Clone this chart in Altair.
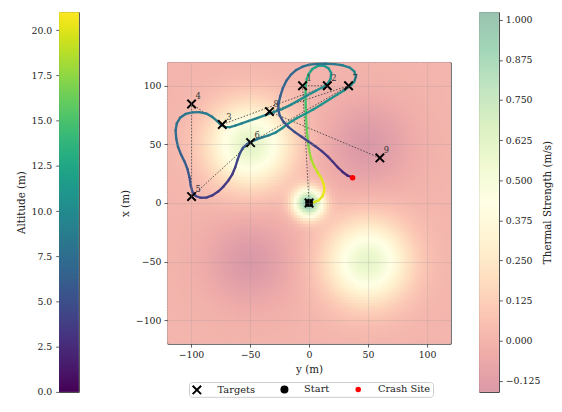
import altair as alt
import numpy as np
import pandas as pd

# ---------------- data ----------------
# thermal model (horizontal coordinate = y, vertical = x)
th_y = [0, -50, 50, 50, -50]
th_x = [0, 50, -50, 50, -50]
th_w = [1.0, 0.62, 0.6, -0.16, -0.16]
th_sigma = [8.5, 24, 24, 25, 25]

# targets (0 = start position)
tgt_id = [0, 1, 2, 3, 4, 5, 6, 7, 8, 9]
tgt_y = [0, -5.5, 15.5, -73.5, -99.5, -99.5, -49.5, 33.5, -33.5, 60]
tgt_x = [0, 100, 100, 67, 84.5, 5.5, 51.5, 100, 78, 38.5]

start_y, start_x = 0, 0
crash_y, crash_x = 36.9, 21.6

traj_y = [0, 4, 8.5, 11.5, 13, 12.5, 10.5, 7.5, 4.5, 2, 0.5, -0.5, -1.3, -2, -2.5, -2.8, -3, -2.8,
          -2, -0.3, 2.8, 7.5, 12.5, 16.5, 18.7, 18.3, 15.8, 11.5,
          5, -2, -9, -16, -23, -30, -37, -44, -51, -57, -62.5, -67, -71, -74.5, -78, -82, -87, -93,
          -99, -104.5, -109, -112, -113, -112.5, -111, -108.5, -105.5, -103, -101.3, -100.2, -98.8,
          -96, -92, -87, -82, -77, -72.5, -68.5, -65, -62.5, -60.5, -58.5, -56, -52.5, -48.5, -44,
          -39, -33.5, -28, -22.5, -17, -10.5, -3.5, 3.5, 10.5, 17.5, 24, 29.5, 34.5, 38.3, 39.7,
          38.3, 34.5, 28.5, 21.5, 14, 7, 0.5, -5.5, -10.8, -15.3, -19.2, -22.2, -24.3, -25.8, -26,
          -24.8, -21.8, -17.3, -12, -6.3, -0.5, 5.3, 10.8, 15.8, 20.3, 24.5, 28.5, 32.5, 36.9]
traj_x = [0, 0.5, 2.5, 6, 11, 16, 21, 26, 31, 37, 43, 49, 56, 64, 73, 82, 91, 100,
          105.5, 110, 114.3, 117, 117.2, 115, 111, 106, 101.8, 98.8,
          95.3, 91.5, 87.5, 83.5, 80, 77.5, 75, 72.5, 70, 68, 66, 64.7, 64.8, 66.5, 70, 73.5, 76.3, 77.5,
          77.3, 76, 73, 68, 62, 55, 48, 41.5, 35.5, 29, 22, 15, 9.5,
          6, 4.5, 4.6, 6.5, 9.8, 14, 19, 24.5, 30.5, 37, 42.5, 47, 50.3, 52.5, 54.5,
          56.3, 58, 60.3, 64, 68.3, 72.3, 76, 79.8, 84, 88.5, 92.5, 96, 99.5, 103.5, 108,
          112.3, 115.5, 117.5, 118.5, 118.8, 118.7, 118, 116.3, 113.5, 109.5, 104.3, 98, 91.3, 85, 79.5,
          74.5, 69.5, 64.8, 60.5, 56.5, 52.5, 48.5, 44.3, 39.8, 35, 30.3, 26.5, 23.5, 21.6]
traj_alt = [19.2, 19.6, 20.0, 20.3, 20.4, 20.3, 20.0, 19.5, 18.9, 18.3, 17.7, 17.2, 16.7, 16.1, 15.5, 15.0, 14.5, 14.0,
            13.4, 12.8, 12.2, 11.7, 11.3, 11.0, 10.8, 10.6, 10.5, 10.4,
            10.2, 10.1, 10.0, 9.9, 9.8, 9.7, 9.6, 9.5, 9.4, 9.3, 9.2, 9.1, 9.0, 8.9, 8.8, 8.7, 8.6, 8.5,
            8.4, 8.2, 8.0, 7.8, 7.5, 7.2, 6.9, 6.6, 6.3, 5.9, 5.5, 5.1, 4.7,
            4.4, 4.1, 3.9, 3.7, 3.5, 3.4, 3.4, 3.5, 3.8, 4.2, 4.7, 5.3, 6.0, 6.8, 7.6,
            8.4, 9.1, 9.7, 10.1, 10.4, 10.6, 10.7, 10.8, 10.8, 10.7, 10.6, 10.5, 10.3, 10.1, 9.9,
            9.6, 9.3, 9.0, 8.7, 8.4, 8.1, 7.8, 7.5, 7.2, 7.0, 6.8, 6.6, 6.4, 6.2, 6.0,
            5.7, 5.4, 5.1, 4.8, 4.5, 4.2, 3.9, 3.6, 3.3, 3.0, 2.7, 2.5, 2.3, 2.1]

alt_ticks = [0, 2.5, 5, 7.5, 10, 12.5, 15, 17.5, 20]
alt_domain = [0, 21]
therm_ticks = [-0.125, 0, 0.125, 0.25, 0.375, 0.5, 0.625, 0.75, 0.875, 1.0]
therm_domain = [-0.16, 1.024]
pos_ticks = [-100, -50, 0, 50, 100]
legend_kinds = ["Targets", "Start", "Crash Site"]

# RdYlGn blended with white at alpha 0.4
therm_colors = ["#db99a8", "#efaca9", "#fbc5b4", "#fedfc0", "#fff3d1", "#ffffe5",
                "#f0f9d1", "#dbf0c3", "#c2e5c1", "#a3d6b9", "#99c3af"]

FONT = "DejaVu Serif"

# ---------------- tables ----------------
cell = 2.5
centers = np.arange(-120 + cell / 2, 120, cell)
rows = []
for cy in centers:
    for cx in centers:
        t = 0.0
        for yy, xx, w, s in zip(th_y, th_x, th_w, th_sigma):
            t += w * np.exp(-((cy - yy) ** 2 + (cx - xx) ** 2) / (2 * s * s))
        rows.append(dict(y0=round(max(-120, cy - 0.65 * cell), 3), y1=round(min(120, cy + 0.65 * cell), 3),
                         x0=round(max(-120, cx - 0.65 * cell), 3), x1=round(min(120, cx + 0.65 * cell), 3),
                         T=round(float(t), 4)))
heat_df = pd.DataFrame(rows)

seg_df = pd.DataFrame(dict(
    ya=traj_y[:-1], yb=traj_y[1:], xa=traj_x[:-1], xb=traj_x[1:],
    alt=[(a + b) / 2 for a, b in zip(traj_alt[:-1], traj_alt[1:])]))

path_df = pd.DataFrame(dict(i=tgt_id, y=tgt_y, x=tgt_x))

mk_df = pd.DataFrame(dict(
    kind=["Targets"] * len(tgt_id) + ["Start", "Crash Site"],
    y=tgt_y + [start_y, crash_y],
    x=tgt_x + [start_x, crash_x]))

lab_df = pd.DataFrame(dict(y=tgt_y[1:], x=tgt_x[1:], t=[str(i) for i in tgt_id[1:]]))

# ---------------- main plot ----------------
xs = alt.Scale(domain=[-120, 120], nice=False, zero=False)
ys = alt.Scale(domain=[-120, 120], nice=False, zero=False)
common_axis = dict(values=pos_ticks, format="d", grid=True, gridColor="#9a9a9a",
                   gridOpacity=0.3, gridWidth=0.8, zindex=1, tickSize=3.5,
                   labelPadding=3, titlePadding=5)
xaxis = alt.Axis(title="y (m)", **common_axis)
yaxis = alt.Axis(title="x (m)", **common_axis)

therm_scale = alt.Scale(domain=therm_domain, range=therm_colors, interpolate="rgb")
alt_scale = alt.Scale(domain=alt_domain, scheme="viridis")

heat = alt.Chart(heat_df).mark_rect().encode(
    x=alt.X("y0:Q", scale=xs, axis=xaxis),
    x2="y1:Q",
    y=alt.Y("x0:Q", scale=ys, axis=yaxis),
    y2="x1:Q",
    fill=alt.Fill("T:Q", scale=therm_scale, legend=None),
)

dotted = alt.Chart(path_df).mark_line(strokeDash=[1.6, 1.6], strokeWidth=0.8, color="#333333").encode(
    x=alt.X("y:Q", scale=xs, axis=xaxis),
    y=alt.Y("x:Q", scale=ys, axis=yaxis),
    order="i:Q",
)

traj = alt.Chart(seg_df).mark_rule(strokeWidth=2.4, strokeCap="round").encode(
    x=alt.X("ya:Q", scale=xs, axis=xaxis),
    x2="yb:Q",
    y=alt.Y("xa:Q", scale=ys, axis=yaxis),
    y2="xb:Q",
    stroke=alt.Stroke("alt:Q", scale=alt_scale, legend=None),
)

xpath = "M-0.72,-1L0,-0.28L0.72,-1L1,-0.72L0.28,0L1,0.72L0.72,1L0,0.28L-0.72,1L-1,0.72L-0.28,0L-1,-0.72Z"
leg = alt.Legend(title=None, orient="none", legendX=22, legendY=325, direction="horizontal",
                 labelFont=FONT, labelFontSize=10, labelColor="#222222", padding=2,
                 strokeColor="#cccccc", fillColor="white", cornerRadius=3,
                 columnPadding=24, labelOffset=15)

markers = alt.Chart(mk_df).mark_point(filled=True, opacity=1).encode(
    x=alt.X("y:Q", scale=xs, axis=xaxis),
    y=alt.Y("x:Q", scale=ys, axis=yaxis),
    color=alt.Color("kind:N", scale=alt.Scale(domain=legend_kinds, range=["black", "black", "red"]), legend=leg),
    shape=alt.Shape("kind:N", scale=alt.Scale(domain=legend_kinds, range=[xpath, "circle", "circle"]), legend=leg),
    size=alt.Size("kind:N", scale=alt.Scale(domain=legend_kinds, range=[100, 32, 30]), legend=leg),
)

labels = alt.Chart(lab_df).mark_text(align="left", baseline="bottom", dx=4, dy=-3,
                                     font=FONT, fontSize=8.5, color="#333333").encode(
    x=alt.X("y:Q", scale=xs, axis=xaxis),
    y=alt.Y("x:Q", scale=ys, axis=yaxis),
    text="t:N",
)

main = alt.layer(heat, dotted, traj, markers, labels).properties(width=288, height=286)

spacer = alt.Chart(pd.DataFrame(dict(v=[0]))).mark_point(opacity=0, size=1).encode(
    x=alt.X("v:Q", axis=None), y=alt.Y("v:Q", axis=None)
).properties(width=1, height=1, view=alt.ViewBackground(stroke="transparent"))

indep = dict(color="independent", fill="independent", stroke="independent",
             shape="independent", size="independent")
indep_leg = dict(color="independent", shape="independent", size="independent")
main_col = alt.vconcat(spacer, main, spacing=48).resolve_scale(**indep).resolve_legend(**indep_leg)

# ---------------- colorbars ----------------
def bar_table(lo, hi, n):
    step = (hi - lo) / n
    los = [lo + k * step for k in range(n)]
    return pd.DataFrame(dict(lo=los, hi=[min(hi, v + 1.6 * step) for v in los],
                             mid=[v + step / 2 for v in los]))

CB_H = 386
alt_cb = alt.Chart(bar_table(alt_domain[0], alt_domain[1], 200)).mark_rect().encode(
    y=alt.Y("lo:Q", scale=alt.Scale(domain=alt_domain, nice=False, zero=False),
            axis=alt.Axis(values=alt_ticks, format=".1f", title="Altitude (m)", orient="left",
                          grid=False, tickSize=3.5, labelPadding=4, titlePadding=5)),
    y2="hi:Q",
    color=alt.Color("mid:Q", scale=alt_scale, legend=None),
).properties(width=20, height=CB_H)

therm_cb = alt.Chart(bar_table(therm_domain[0], therm_domain[1], 200)).mark_rect().encode(
    y=alt.Y("lo:Q", scale=alt.Scale(domain=therm_domain, nice=False, zero=False),
            axis=alt.Axis(values=therm_ticks, format=".3f", title="Thermal Strength (m/s)", orient="right",
                          grid=False, tickSize=3.5, labelPadding=3, titlePadding=13, titleAngle=270)),
    y2="hi:Q",
    color=alt.Color("mid:Q", scale=therm_scale, legend=None),
).properties(width=20, height=CB_H)

right_part = alt.hconcat(main_col, therm_cb, spacing=27).resolve_scale(**indep).resolve_legend(**indep_leg)
chart = alt.hconcat(alt_cb, right_part, spacing=40).resolve_scale(**indep).resolve_legend(**indep_leg).properties(
    padding={"left": 7, "top": 0, "right": 0, "bottom": 0}
).configure(font=FONT).configure_axis(
    labelFont=FONT, titleFont=FONT, labelFontSize=9.5, titleFontSize=10.5,
    titleFontWeight="normal", labelColor="#222222", titleColor="#222222",
    tickColor="#333333", tickWidth=0.8, domain=False
).configure_view(stroke="#333333", strokeWidth=1)

chart.save("out.html", embed_options={"renderer": "svg", "actions": False})
